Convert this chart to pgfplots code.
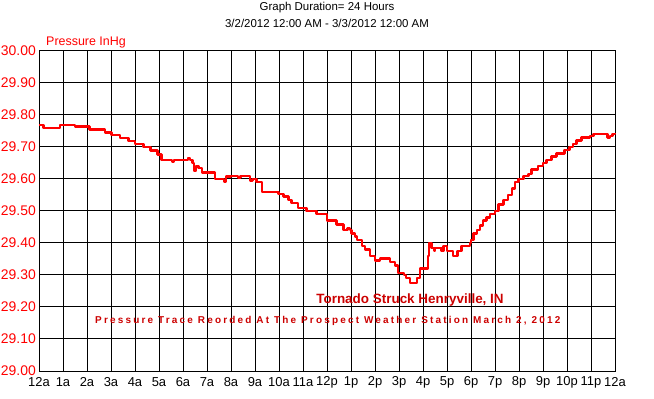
\documentclass[border=0pt]{standalone}
\usepackage{fontspec}
\setmainfont{Liberation Sans}
\usepackage{pgfplots}
\pgfplotsset{compat=1.18}
\definecolor{annot}{RGB}{204,0,0}
\begin{document}
\begin{tikzpicture}
\useasboundingbox (0,0) rectangle (654bp,399bp);
\begin{axis}[
  scale only axis, width=576bp, height=320bp,
  at={(39bp,28bp)}, anchor=south west,
  xmin=0, xmax=24, ymin=29, ymax=30,
  xtick={0,1,...,24},
  xticklabels={12a,1a,2a,3a,4a,5a,6a,7a,8a,9a,10a,11a,12p,1p,2p,3p,4p,5p,6p,7p,8p,9p,10p,11p,12a},
  ytick={29,29.1,29.2,29.3,29.4,29.5,29.6,29.7,29.8,29.9,30},
  yticklabels={29.00,29.10,29.20,29.30,29.40,29.50,29.60,29.70,29.80,29.90,30.00},
  major tick length=0pt,
  grid=major,
  major grid style={black, line width=1bp},
  axis line style={black, line width=1bp},
  xticklabel style={font=\fontsize{13}{13}\selectfont, anchor=center, inner sep=0pt, yshift=-11bp},
  yticklabel style={font=\fontsize{14}{14}\selectfont, text=red, anchor=east, inner sep=0pt, xshift=-3bp},
  clip=false,
]
\addplot[const plot, red, line width=2.5bp, line join=round] coordinates {
(0,29.768)(0.18,29.76)(0.88,29.768)(1.5,29.764)(2.1,29.754)(2.75,29.746)(3.03,29.737)(3.38,29.728)(3.72,29.718)(4.0,29.709)
(4.35,29.70)(4.65,29.689)(4.94,29.676)(5.11,29.66)(5.55,29.655)(5.62,29.66)(6.2,29.665)(6.3,29.66)
(6.4,29.65)(6.45,29.625)(6.55,29.64)(6.65,29.635)(6.8,29.62)(7.33,29.60)(7.7,29.592)(7.8,29.608)
(8.0,29.61)(8.3,29.605)(8.4,29.61)(8.8,29.595)(8.9,29.60)(9.07,29.59)(9.3,29.56)(9.97,29.553)
(10.18,29.546)(10.4,29.535)(10.53,29.525)(10.8,29.51)(11.15,29.50)(11.57,29.49)(11.99,29.47)(12.4,29.458)
(12.68,29.44)(12.85,29.445)(12.95,29.44)(13.03,29.43)(13.17,29.42)(13.24,29.41)(13.45,29.39)(13.58,29.38)
(13.79,29.36)(14.0,29.345)(14.2,29.352)(14.63,29.34)(14.83,29.33)(14.96,29.306)(15.2,29.30)(15.3,29.29)
(15.46,29.275)(15.74,29.29)(15.875,29.32)(16.2,29.36)(16.26,29.40)(16.36,29.385)(16.47,29.375)(16.5,29.385)
(16.78,29.375)(16.85,29.39)(17.0,29.375)(17.24,29.36)(17.43,29.375)(17.6,29.39)(17.96,29.40)(18.0,29.41)
(18.1,29.43)(18.24,29.44)(18.375,29.455)(18.5,29.47)(18.65,29.48)(18.8,29.49)(19.0,29.50)(19.14,29.52)
(19.35,29.535)(19.55,29.55)(19.7,29.57)(19.83,29.59)(19.97,29.60)(20.18,29.61)(20.39,29.615)(20.53,29.63)
(20.8,29.64)(21.0,29.65)(21.15,29.66)(21.36,29.67)(21.57,29.68)(21.9,29.69)(22.1,29.70)(22.26,29.71)
(22.4,29.72)(22.6,29.73)(22.96,29.735)(23.1,29.74)(23.68,29.73)(23.79,29.735)(23.9,29.74)(24,29.745)
};
\end{axis}
\node[font=\fontsize{11.5}{11.5}\selectfont] at (327bp,391bp) {Graph Duration= 24 Hours};
\node[font=\fontsize{11.5}{11.5}\selectfont] at (327bp,376bp) {3/2/2012 12:00 AM - 3/3/2012 12:00 AM};
\node[font=\fontsize{12.5}{12.5}\selectfont, text=red, anchor=west, inner sep=0pt] at (46bp,356bp) {Pressure InHg};
\node[font=\fontsize{13.5}{13.5}\selectfont\bfseries, text=annot] at (410bp,99bp) {Tornado Struck Henryville, IN};
\node[font=\fontsize{10}{10}\selectfont\bfseries\addfontfeature{LetterSpace=22}, text=annot, anchor=west, inner sep=0pt] at (95bp,78bp) {Pressure Trace Reorded At The Prospect Weather Station March 2, 2012};
\end{tikzpicture}
\end{document}
